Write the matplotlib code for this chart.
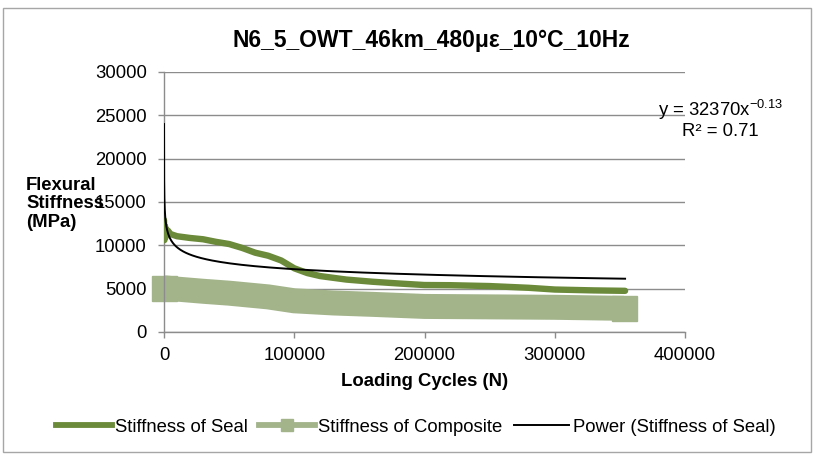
import matplotlib
matplotlib.use("Agg")
import matplotlib.pyplot as plt
import numpy as np
from matplotlib.lines import Line2D
from matplotlib.patches import Rectangle

# Series data
seal_cycles = [10, 300, 800, 1500, 3000, 5000, 10000, 20000, 30000, 40000, 50000,
               60000, 70000, 80000, 90000, 100000, 110000, 120000, 140000, 160000,
               180000, 200000, 220000, 250000, 280000, 300000, 330000, 354000]
seal_stiffness = [12900, 10600, 12200, 11000, 11700, 11300, 11050, 10850, 10700, 10400,
                  10150, 9700, 9150, 8800, 8250, 7350, 6800, 6450, 6050, 5800,
                  5600, 5420, 5400, 5300, 5100, 4900, 4800, 4750]

comp_cycles = [0, 10000, 30000, 50000, 80000, 100000, 130000, 160000, 200000,
               250000, 300000, 353000]
comp_stiffness = [5100, 4950, 4700, 4480, 4050, 3600, 3350, 3190, 2950,
                  2900, 2850, 2730]

# Power trendline coefficients
fit_a = 32370
fit_b = -0.13
fit_r2 = 0.71

title = "N6_5_OWT_46km_480\u03bc\u03b5_10\u00b0C_10Hz"
x_ticks = [0, 100000, 200000, 300000, 400000]
y_ticks = [0, 5000, 10000, 15000, 20000, 25000, 30000]

plt.rcParams["font.family"] = ["Liberation Sans", "DejaVu Sans"]

seal_color = "#6b8a3a"
comp_color = "#a3b48b"
grid_color = "#8c8c8c"
fs = 13.3

W, H = 814, 454
fig = plt.figure(figsize=(W / 100, H / 100), dpi=100)
ax = fig.add_axes([164 / W, 1 - 332 / H, (685 - 164) / W, (332 - 72) / H])

ax.plot(comp_cycles, comp_stiffness, color=comp_color, lw=18, solid_capstyle="butt",
        marker="s", ms=18, mec=comp_color, mfc=comp_color,
        markevery=[0, len(comp_cycles) - 1], clip_on=False, zorder=2)
ax.plot(seal_cycles, seal_stiffness, color=seal_color, lw=4.6, solid_capstyle="round",
        solid_joinstyle="round", zorder=3)

xf = np.geomspace(seal_cycles[0], seal_cycles[-1], 400)
ax.plot(xf, fit_a * xf ** fit_b, color="black", lw=1.4, zorder=4)

ax.set_xlim(0, 400000)
ax.set_ylim(0, 30000)
ax.set_xticks(x_ticks)
ax.set_yticks(y_ticks)
ax.set_xticklabels([str(v) for v in x_ticks])
ax.set_yticklabels([str(v) for v in y_ticks])
ax.tick_params(axis="both", labelsize=fs, color=grid_color, length=4.5, width=1,
               direction="out")
ax.tick_params(axis="x", pad=6)
ax.tick_params(axis="y", pad=8)
ax.yaxis.grid(True, color=grid_color, lw=1)
ax.set_axisbelow(True)
for s in ["top", "right"]:
    ax.spines[s].set_visible(False)
for s in ["left", "bottom"]:
    ax.spines[s].set_color(grid_color)
    ax.spines[s].set_linewidth(1)

fig.text(431 / W, 1 - 41 / H, title, ha="center", va="center",
         fontsize=16.5, fontweight="bold")
fig.text(26 / W, 1 - 204 / H, "Flexural\nStiffness\n(MPa)", ha="left", va="center",
         fontsize=fs, fontweight="bold", linespacing=1.1)
fig.text(425 / W, 1 - 382 / H, "Loading Cycles (N)", ha="center", va="center",
         fontsize=fs, fontweight="bold")

fig.text(721 / W, 1 - 110 / H, "y = %dx$^{\\mathregular{%.2f}}$" % (fit_a, fit_b),
         ha="center", va="center", fontsize=fs)
fig.text(720 / W, 1 - 131 / H, "R\u00b2 = %.2f" % fit_r2,
         ha="center", va="center", fontsize=fs)

handles = [
    Line2D([], [], color=seal_color, lw=4.2),
    Line2D([], [], color=comp_color, lw=4.2, marker="s", ms=9),
    Line2D([], [], color="black", lw=1.4),
]
labels = ["Stiffness of Seal", "Stiffness of Composite", "Power (Stiffness of Seal)"]
fig.legend(handles, labels, loc="center", bbox_to_anchor=(416 / W, 1 - 427 / H),
           ncol=3, frameon=False, fontsize=fs, handlelength=3.0, handletextpad=0.2,
           columnspacing=0.6, borderpad=0, borderaxespad=0)

fig.patches.append(Rectangle((3 / W, 2 / H), 808 / W, 444 / H,
                             transform=fig.transFigure, fill=False,
                             edgecolor="#a6a6a6", lw=1))

fig.savefig("out.png", dpi=100)
